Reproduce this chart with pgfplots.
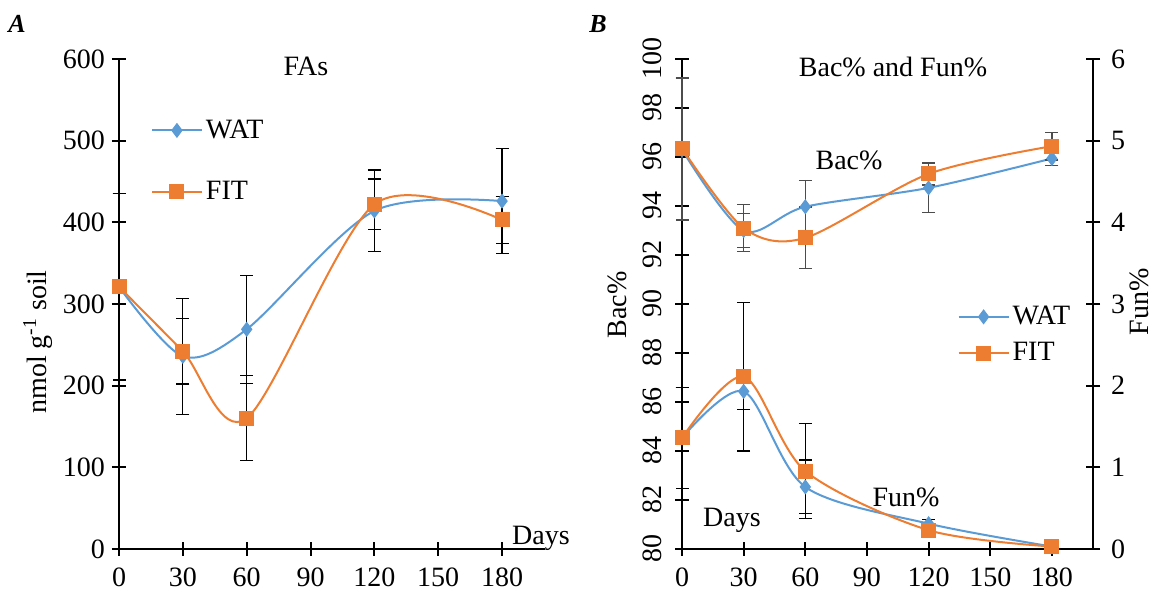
\documentclass[border=0pt]{standalone}
\usepackage{fontspec}
\setmainfont{Liberation Serif}
\usepackage{pgfplots}
\pgfplotsset{compat=1.18}
\definecolor{watblue}{HTML}{5B9BD5}
\definecolor{fitorange}{HTML}{ED7D31}
\pgfplotsset{
  mystyle/.style={
    scale only axis,
    xmin=0, xmax=200,
    xtick={0,30,...,180},
    tick align=center,
    major tick length=7pt,
    tick style={black, line width=1pt},
    axis line style={black, line width=1pt},
    /pgf/number format/assume math mode=true,
    ticklabel style={font=\rmfamily\fontsize{14}{16}\selectfont},
    xticklabel style={yshift=-2.5pt},
    clip=false,
    legend cell align=left,
    legend image code/.code={\draw[##1, mark repeat=2, mark phase=2] plot coordinates {(0pt,0pt) (12.5pt,0pt) (25pt,0pt)};},
  },
  watstyle/.style={watblue, line width=1pt, smooth, tension=0.5, mark=diamond*, mark size=3.4pt, mark options={fill=watblue, draw=watblue, line width=0.5pt}},
  fitstyle/.style={fitorange, line width=1pt, smooth, tension=0.5, mark=square*, mark size=3.5pt, mark options={fill=fitorange, draw=fitorange, line width=0.5pt}},
  ebars/.style={error bars/.cd, y dir=both, y explicit, error bar style={#1, line width=0.6pt}, error mark options={#1, rotate=90, mark size=3.25pt, line width=0.6pt}},
  ebars/.default=black,
}
\begin{document}
\begin{tikzpicture}
\path[use as bounding box] (0,0) rectangle (578pt,296.5pt);
% ---------- Panel A ----------
\begin{axis}[mystyle,
  at={(59.5pt,22pt)}, anchor=south west,
  width=212.8pt, height=245pt,
  ymin=0, ymax=600, ytick={0,100,...,600},
  axis x line*=bottom, axis y line*=left,
  legend style={draw=none, fill=none, at={(axis cs:12,475)}, anchor=west,
    font=\rmfamily\fontsize{14}{16}\selectfont, row sep=16pt,
    nodes={inner xsep=1.5pt}},
]
\addplot[watstyle, ebars] coordinates {
 (0,321) +- (0,114)
 (30,236) +- (0,71)
 (60,269) +- (0,66)
 (120,414) +- (0,50)
 (180,426) +- (0,64)
};
\addlegendentry{WAT}
\addplot[fitstyle, ebars] coordinates {
 (0,321) +- (0,114)
 (30,242) +- (0,40)
 (60,160) +- (0,52)
 (120,422) +- (0,31)
 (180,403) +- (0,29)
};
\addlegendentry{FIT}
\end{axis}
% ---------- Panel B, Bac% ----------
\begin{axis}[mystyle,
  at={(341pt,22pt)}, anchor=south west,
  width=205.5pt, height=245pt,
  ymin=80, ymax=100, ytick={80,82,...,100},
  axis x line*=bottom, axis y line*=left,
  yticklabel style={xshift=-3pt, rotate=90, anchor=south},
]
\addplot[watstyle, ebars=black!70] coordinates {
 (0,96.3) +- (0,2.9)
 (30,93.0) +- (0,0.7)
 (60,93.97) +- (0,1.07)
 (120,94.74) +- (0,1.0)
 (180,95.94) +- (0,0.3)
};
\addplot[fitstyle, ebars=black!70] coordinates {
 (0,96.35) +- (0,2.9)
 (30,93.1) +- (0,0.95)
 (60,92.7) +- (0,1.26)
 (120,95.31) +- (0,0.45)
 (180,96.44) +- (0,0.56)
};
\end{axis}
% ---------- Panel B, Fun% ----------
\begin{axis}[mystyle,
  at={(341pt,22pt)}, anchor=south west,
  width=205.5pt, height=245pt,
  ymin=0, ymax=6, ytick={0,1,...,6},
  axis x line=none, axis y line*=right,
  yticklabel style={xshift=2pt},
  legend style={draw=none, fill=none, at={(axis cs:131,2.62)}, anchor=west,
    font=\rmfamily\fontsize{14}{16}\selectfont, row sep=3.5pt,
    nodes={inner xsep=1.5pt}},
]
\addplot[watstyle, ebars] coordinates {
 (0,1.36) +- (0,0.62)
 (30,1.93) +- (0,0.22)
 (60,0.76) +- (0,0.33)
 (120,0.31) +- (0,0.05)
 (180,0.03) +- (0,0.02)
};
\addlegendentry{WAT}
\addplot[fitstyle, ebars] coordinates {
 (0,1.36) +- (0,0.62)
 (30,2.11) +- (0,0.91)
 (60,0.955) +- (0,0.58)
 (120,0.23) +- (0,0.05)
 (180,0.03) +- (0,0.02)
};
\addlegendentry{FIT}
\end{axis}
% ---------- Texts ----------
\node[font=\rmfamily\fontsize{13}{15}\selectfont\bfseries\itshape] at (8.5pt,284.5pt) {A};
\node[font=\rmfamily\fontsize{13}{15}\selectfont\bfseries\itshape] at (299pt,284.5pt) {B};
\node[font=\rmfamily\fontsize{14}{16}\selectfont] at (153pt,263.5pt) {FAs};
\node[font=\rmfamily\fontsize{14}{16}\selectfont, rotate=90] at (19pt,125.5pt) {nmol g\textsuperscript{-1} soil};
\node[font=\rmfamily\fontsize{14}{16}\selectfont] at (270.5pt,27.5pt) {Days};
\node[font=\rmfamily\fontsize{14}{16}\selectfont] at (446.5pt,263pt) {Bac\% and Fun\%};
\node[font=\rmfamily\fontsize{14}{16}\selectfont] at (424.5pt,216.5pt) {Bac\%};
\node[font=\rmfamily\fontsize{14}{16}\selectfont] at (453pt,48pt) {Fun\%};
\node[font=\rmfamily\fontsize{14}{16}\selectfont] at (366pt,36.5pt) {Days};
\node[font=\rmfamily\fontsize{14}{16}\selectfont, rotate=90] at (308.5pt,144pt) {Bac\%};
\node[font=\rmfamily\fontsize{14}{16}\selectfont, rotate=90] at (569.5pt,145.5pt) {Fun\%};
\end{tikzpicture}
\end{document}
